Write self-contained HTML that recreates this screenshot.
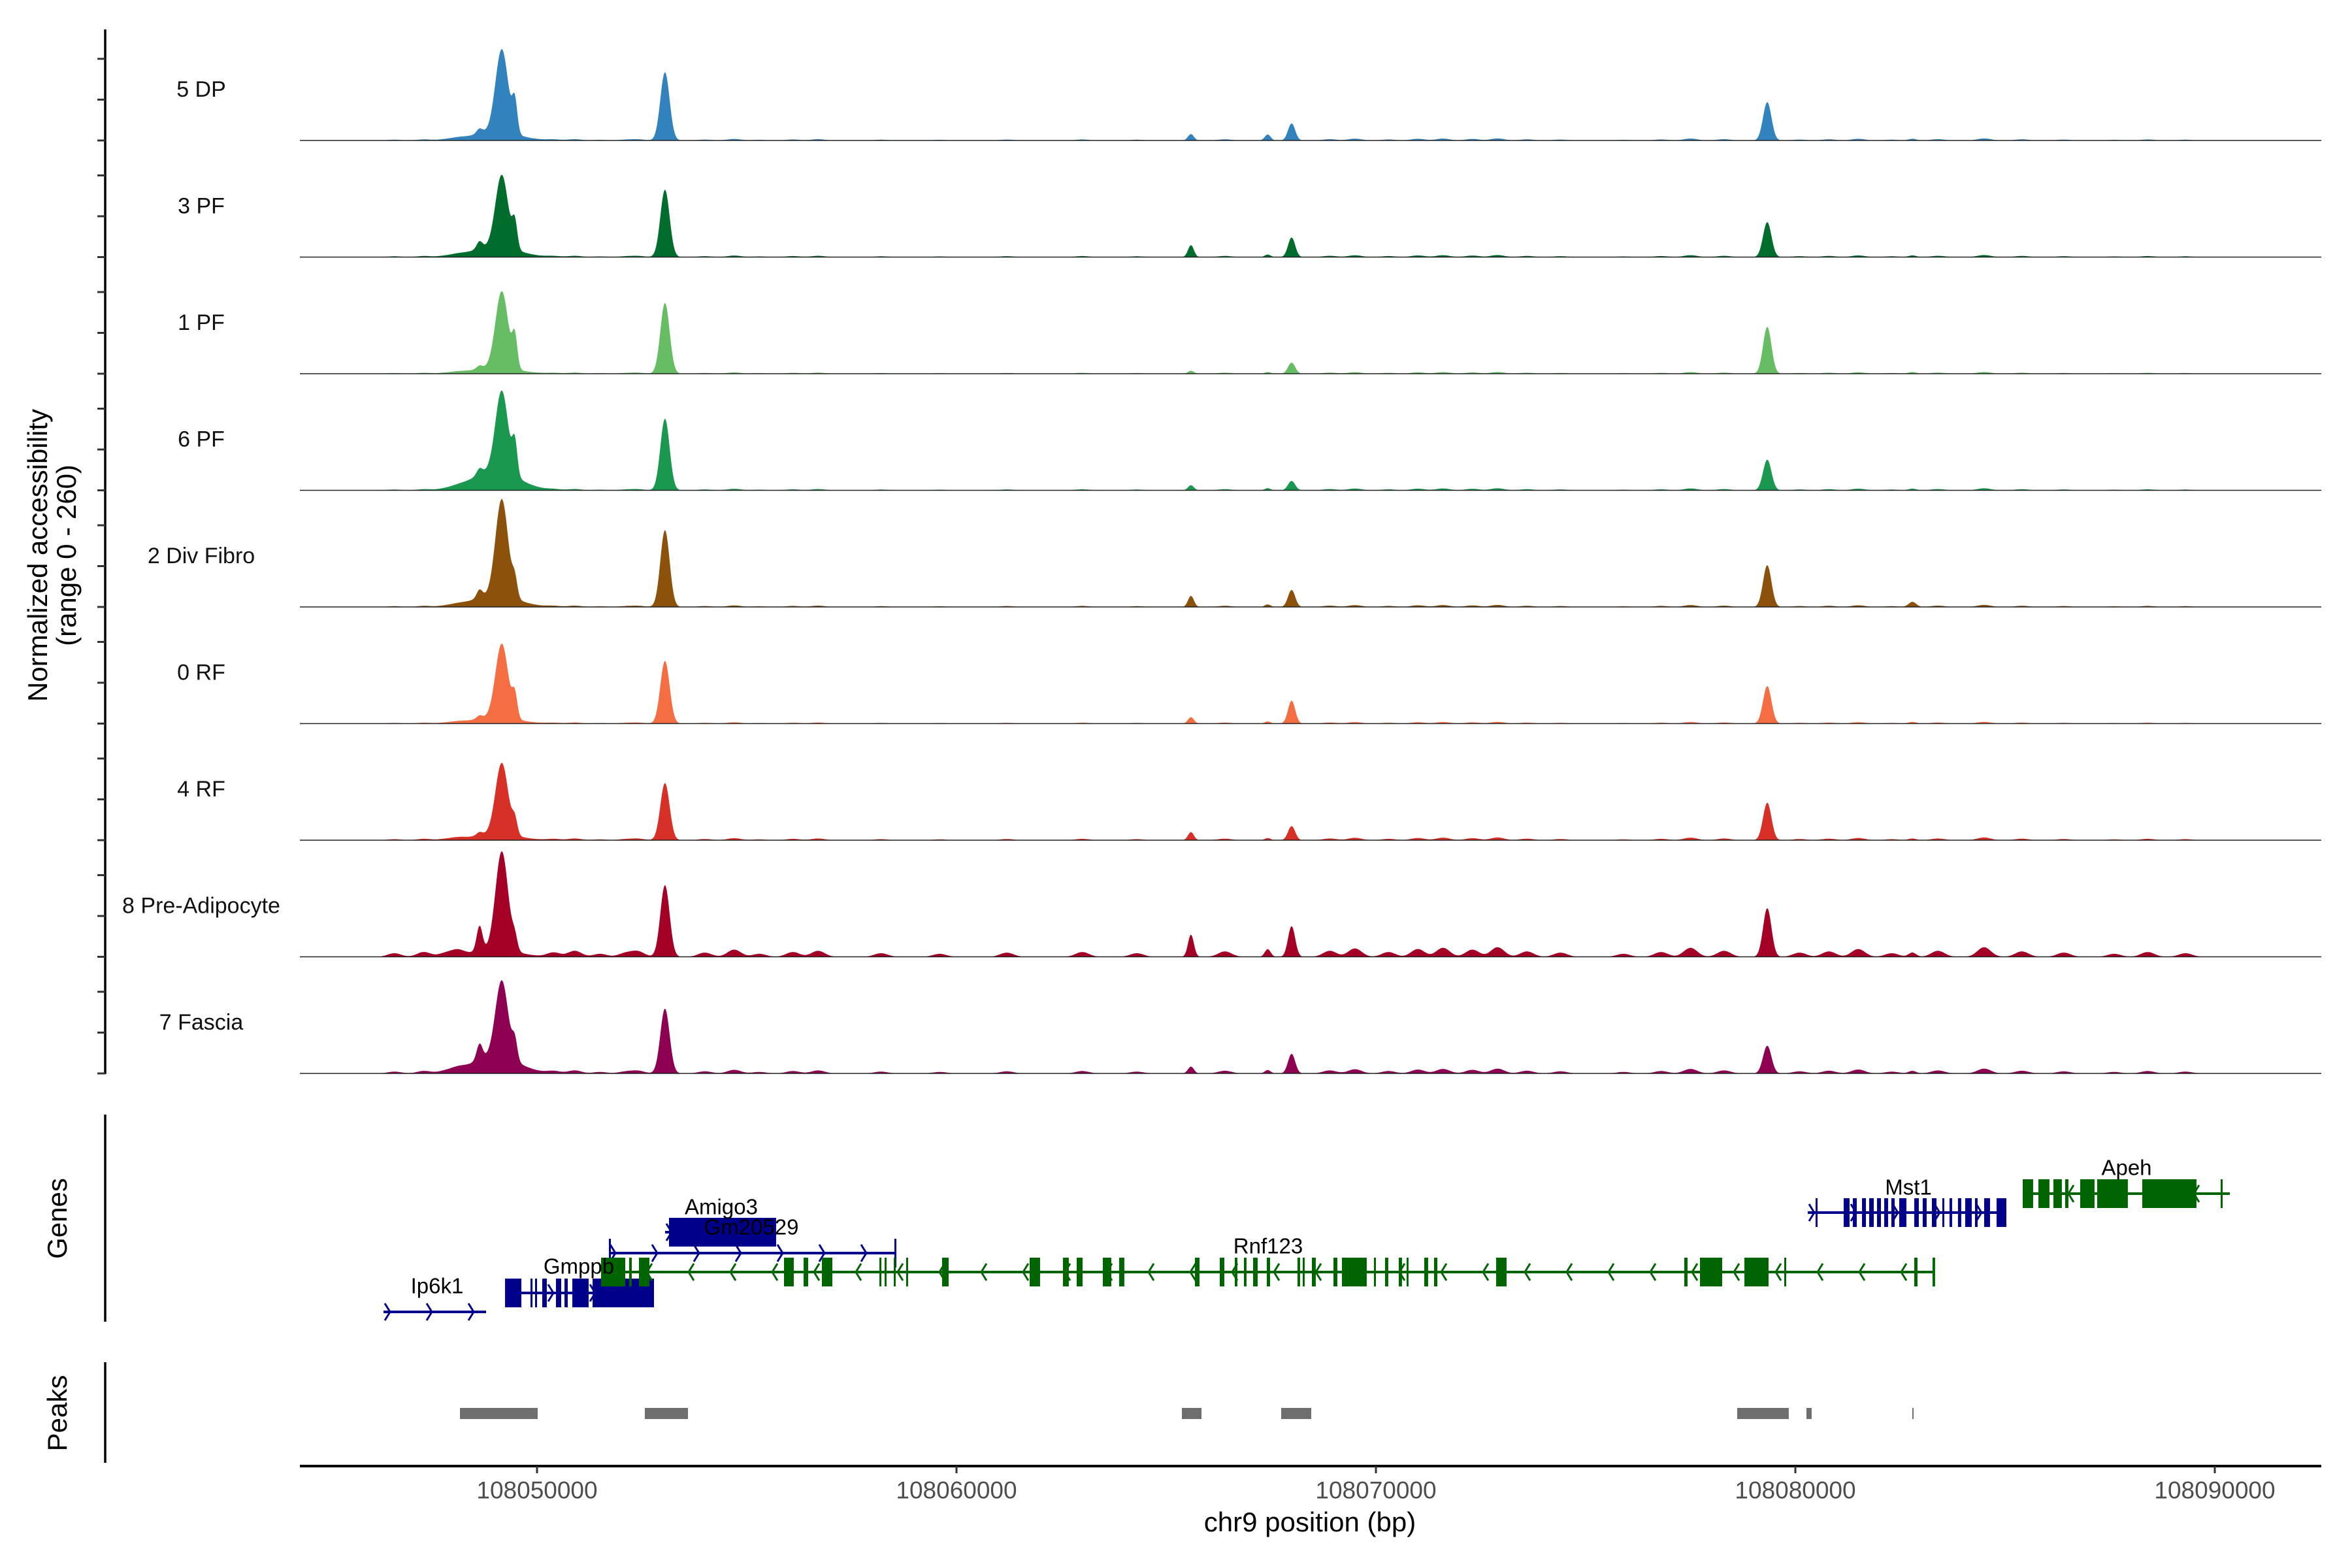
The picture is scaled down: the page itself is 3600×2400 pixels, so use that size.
<!DOCTYPE html>
<html><head><meta charset="utf-8"><style>
html,body{margin:0;padding:0;background:#fff;}
svg{display:block;font-family:"Liberation Sans",sans-serif;}
</style></head><body>
<svg id="chart" width="3600" height="2400" viewBox="0 0 3600 2400" xmlns="http://www.w3.org/2000/svg">
<rect width="3600" height="2400" fill="#fff"/>
<g id="tracks"></g>
<g id="genes"></g>
<g id="geneLabels"></g>
<g id="peaks"></g>
<g id="axes"></g>
<text x="72" y="850" font-size="42" text-anchor="middle" transform="rotate(-90 72 850)">Normalized accessibility</text>
<text x="116" y="850" font-size="42" text-anchor="middle" transform="rotate(-90 116 850)">(range 0 - 260)</text>
<text x="102" y="1865" font-size="42" text-anchor="middle" transform="rotate(-90 102 1865)">Genes</text>
<text x="102" y="2163" font-size="42" text-anchor="middle" transform="rotate(-90 102 2163)">Peaks</text>
<text x="2005" y="2344" font-size="42" text-anchor="middle">chr9 position (bp)</text>
</svg>
<script>
// ---- data ----
const trackNames = ["5 DP","3 PF","1 PF","6 PF","2 Div Fibro","0 RF","4 RF","8 Pre-Adipocyte","7 Fascia"];
const trackColors = ["#3182bd","#006d2c","#66bd63","#1a9850","#8c510a","#f46d43","#d73027","#a50026","#8e0152"];
const peakPositions = [108049160,108049470,108048630,108053050,108065590,108067990,108079330,108049000,108067420,108082790];
const peakWidths = [150,60,70,110,70,85,100,550,70,90];
const h_DP  = [195,72,12,160,15,40,90,20,14,4];
const h_3PF = [170,60,18,158,28,46,82,24,6,4];
const h_1PF = [180,72,8,166,7,26,110,14,4,4];
const h_6PF = [190,75,15,168,12,22,72,46,5,4];
const h_DF  = [228,40,20,180,26,40,98,26,6,12];
const h_0RF = [174,52,8,147,15,54,88,14,5,4];
const h_4RF = [168,34,8,134,19,33,88,14,5,4];
const h_8PA = [232,28,60,168,52,72,114,16,18,10];
const h_7F  = [180,44,38,152,16,46,65,40,8,6];
const trackHeights = [h_DP,h_3PF,h_1PF,h_6PF,h_DF,h_0RF,h_4RF,h_8PA,h_7F];
const noiseLevel = [3,3,2.5,3,3,2.5,4,14,7];
const noisePos = [108046600,108047300,108047800,108048100,108050400,108050900,108051500,108052100,108052400,108054000,108054700,108055300,108056100,108056700,108058200,108059600,108061200,108063000,108064300,108066400,108068900,108069500,108070300,108071000,108071600,108072300,108072900,108073600,108074400,108075900,108076800,108077500,108078300,108080100,108080800,108081500,108082300,108083400,108084500,108085400,108086400,108087600,108088400,108089300];
const noiseRel = [0.6,0.8,0.5,0.9,0.7,1.0,0.5,0.6,0.9,0.7,1.2,0.5,0.8,1.0,0.6,0.5,0.7,0.8,0.6,0.9,1.0,1.4,0.8,1.3,1.5,1.2,1.6,0.9,0.7,0.5,0.8,1.5,1.0,0.7,0.9,1.3,0.6,1.0,1.6,0.9,0.7,0.5,0.8,0.6];
const covStart = 108046300, covEnd = 108090300;
const xTicks = [108050000,108060000,108070000,108080000,108090000];
const geneNames = ["Ip6k1","Gmppb","Gm20529","Amigo3","Rnf123","Mst1","Apeh"];
const geneStrand = [1,1,1,1,-1,1,-1];
const geneRowY = [2008,1979,1918,1886,1947,1856,1827];
const geneStart = [108046340,108049237,108051713,108053053,108051526,108080295,108085420];
const geneEnd   = [108048785,108052788,108058566,108055700,108083301,108085030,108090358];
const geneLabelPos = [[669,1968],[886,1938],[1150,1878],[1104,1847],[1941,1907],[2921,1817],[3255,1787]];
const ex_Ip6k1 = [];
const ex_Gmppb = [[9237,9626],[9844,9891],[9953,10000],[10124,10233],[10451,10576],[10654,10732],[10841,11230],[11324,12788]];
const ex_Gm20529 = [[11713,11760],[18520,18566]];
const ex_Amigo3 = [[13146,15700]];
const ex_Rnf123 = [[11526,12103],[12196,12258],[12430,12679],[15888,16121],[16355,16464],[16791,17040],[18162,18193],[18286,18317],[18504,18535],[18800,18831],[19657,19813],[21744,21993],[22538,22678],[22865,23006],[23488,23691],[23878,24002],[25685,25794],[26277,26386],[26635,26697],[26853,26915],[27071,27180],[27398,27476],[28130,28192],[28254,28301],[28473,28566],[28987,29080],[29189,29781],[29953,29999],[30217,30295],[30544,30622],[30731,30763],[31152,31245],[31386,31464],[32865,33115],[37351,37429],[37725,38255],[38784,39361],[39735,39766],[42834,42912],[43270,43332]];
const ex_Mst1 = [[40482,40528],[41152,41292],[41370,41464],[41589,41682],[41760,41869],[41947,42040],[42118,42211],[42289,42367],[42476,42647],[42834,42943],[43036,43130],[43255,43364],[43504,43535],[43675,43737],[43877,43955],[44049,44205],[44283,44345],[44501,44641],[44797,45030]];
const ex_Apeh = [[45420,45669],[45794,46058],[46152,46354],[46432,46510],[46790,47133],[47195,47927],[48270,49563],[50140,50187]];
const geneExons = [ex_Ip6k1,ex_Gmppb,ex_Gm20529,ex_Amigo3,ex_Rnf123,ex_Mst1,ex_Apeh];
const exonBase = 108040000;
const peakStart = [108048162,108052570,108065374,108067741,108078613,108080264,108082788];
const peakEnd   = [108050015,108053598,108065841,108068458,108079843,108080388,108082819];

// ---- scales ----
const NS="http://www.w3.org/2000/svg";
const X = bp => 822 + (bp-108050000)*0.0642;
const XMIN=459, XMAX=3553;
const BASE0=215, TRACK_H=178.5, VAL_PX=170/260;
function mk(tag,attrs,parent){const e=document.createElementNS(NS,tag);for(const k in attrs)e.setAttribute(k,attrs[k]);parent.appendChild(e);return e;}

const tracksG=document.getElementById('tracks');
trackNames.forEach((name,t)=>{
  const base=BASE0+t*TRACK_H;
  const hs=trackHeights[t];
  let pts=[];
  for(let px=Math.floor(X(covStart));px<=X(covEnd);px+=1.5){
    const bp=108050000+(px-822)/0.0642;
    let v=0;
    for(let i=0;i<peakPositions.length;i++){const d=(bp-peakPositions[i])/peakWidths[i];v+=hs[i]*Math.exp(-0.5*d*d);}
    for(let i=0;i<noisePos.length;i++){const d=(bp-noisePos[i])/160;v+=noiseLevel[t]*noiseRel[i]*Math.exp(-0.5*d*d);}
    v=Math.min(v,260);
    pts.push(px.toFixed(1)+','+(base-v*VAL_PX).toFixed(1));
  }
  const poly=mk('polygon',{points:X(covStart).toFixed(1)+','+base+' '+pts.join(' ')+' '+X(covEnd).toFixed(1)+','+base,fill:trackColors[t]},tracksG);
  
  
  const bl=mk('line',{x1:XMIN,x2:XMAX,y1:base,y2:base,stroke:'#222','stroke-width':1.6},tracksG);
  
  
  const lb=mk('text',{x:308,y:base-78,'font-size':34,'text-anchor':'middle','dominant-baseline':'central',fill:'#111'},tracksG);
  lb.textContent=name;
  
  
});

// genes
const genesG=document.getElementById('genes');
const labG=document.getElementById('geneLabels');
geneNames.forEach((g,i)=>{
  const col=geneStrand[i]>0?'#00008b':'#006400';
  const y=geneRowY[i], x1=X(geneStart[i]), x2=X(geneEnd[i]);
  const grp=mk('g',{},genesG);
  
  
  mk('line',{x1:x1,x2:x2,y1:y,y2:y,stroke:col,'stroke-width':4},grp);
  for(let ax=x1+8;ax<=x2+1;ax+=64){
    const s=geneStrand[i];
    mk('polyline',{points:(ax-6*s)+','+(y-13)+' '+(ax+2*s)+','+y+' '+(ax-6*s)+','+(y+13),fill:'none',stroke:col,'stroke-width':3},grp);
  }
  geneExons[i].forEach(e=>{
    const ex1=X(exonBase+e[0]), ex2=X(exonBase+e[1]);
    const r=mk('rect',{x:ex1,y:y-22,width:Math.max(ex2-ex1,3),height:44,fill:col},grp);
    
    
  });
  const t=mk('text',{x:geneLabelPos[i][0],y:geneLabelPos[i][1],'font-size':33,'text-anchor':'middle','dominant-baseline':'central',fill:'#000'},labG);
  t.textContent=g;
  
  
});

// peaks
const peaksG=document.getElementById('peaks');
peakStart.forEach((s,i)=>{
  const x1=X(s), x2=X(peakEnd[i]);
  const r=mk('rect',{x:x1,y:2155,width:Math.max(x2-x1,2),height:17,fill:'#6e6e6e'},peaksG);
  
  
});

// axes
const axG=document.getElementById('axes');
[[45,1644],[1706,2023],[2085,2239]].forEach(([a,b])=>{
  const l=mk('line',{x1:161,x2:161,y1:a,y2:b,stroke:'#000','stroke-width':3.5},axG);
  
  
});
for(let t=0;t<trackNames.length;t++){
  const base=BASE0+t*TRACK_H;
  [0,62.5,125].forEach(o=>{
    const tk=mk('line',{x1:149,x2:161,y1:base-o,y2:base-o,stroke:'#333','stroke-width':3},axG);
    
    
  });
}
const xl=mk('line',{x1:XMIN,x2:XMAX,y1:2244,y2:2244,stroke:'#000','stroke-width':4},axG);


xTicks.forEach(v=>{
  const tk=mk('line',{x1:X(v),x2:X(v),y1:2244,y2:2255,stroke:'#333','stroke-width':3},axG);
  
  
  const tl=mk('text',{x:X(v),y:2281,'font-size':37,'text-anchor':'middle','dominant-baseline':'central',fill:'#4d4d4d'},axG);
  tl.textContent=String(v);
  
  
});
</script>
</body></html>
